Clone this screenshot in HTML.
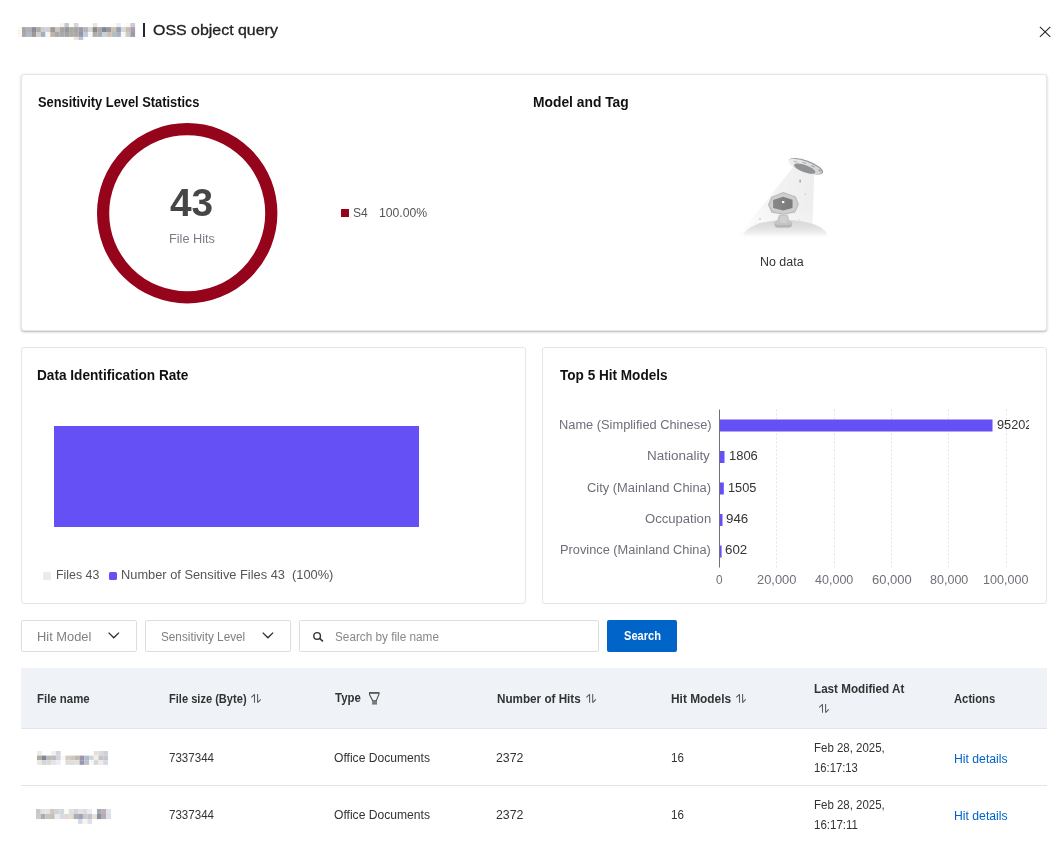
<!DOCTYPE html>
<html lang="en">
<head>
<meta charset="utf-8">
<title>OSS object query</title>
<style>
*{box-sizing:border-box;margin:0;padding:0}
html,body{width:1058px;height:841px;overflow:hidden;background:#fff}
body{font-family:"Liberation Sans","Noto Sans CJK SC",sans-serif;color:#333;font-size:12px;position:relative}
.abs{position:absolute}
.x{position:absolute;white-space:nowrap;transform-origin:0 0}
.card{position:absolute;background:#fff;border:1px solid #e4e5e9;border-radius:3px}
.card.shadow{box-shadow:0 1px 3px 0 rgba(0,0,0,.2),0 1px 1px 0 rgba(0,0,0,.1);border-color:#e6e6e6}
.box{position:absolute;border:1px solid #dedede;border-radius:2px;background:#fff}
</style>
</head>
<body>
<!-- header -->
<svg class="abs" style="left:0;top:0" width="140" height="50" viewBox="0 0 140 50"><rect x="59.68" y="23.00" width="4.76" height="4.15" fill="#fdf3ec"/><rect x="64.39" y="23.00" width="4.76" height="4.15" fill="#c0cad6"/><rect x="69.10" y="23.00" width="4.76" height="4.15" fill="#fffff2"/><rect x="73.81" y="23.00" width="4.76" height="4.15" fill="#d6d6e2"/><rect x="92.65" y="23.00" width="4.76" height="4.15" fill="#e6e6e6"/><rect x="111.49" y="23.00" width="4.76" height="4.15" fill="#fdfbf6"/><rect x="116.20" y="23.00" width="4.76" height="4.15" fill="#e7ecf5"/><rect x="125.62" y="23.00" width="4.76" height="4.15" fill="#fdf8f0"/><rect x="130.33" y="23.00" width="4.76" height="4.15" fill="#c9ccd6"/><rect x="22.00" y="27.10" width="4.76" height="4.93" fill="#a4a5a8"/><rect x="26.71" y="27.10" width="4.76" height="4.93" fill="#aeafb2"/><rect x="31.42" y="27.10" width="4.76" height="4.93" fill="#8a8d9b"/><rect x="36.13" y="27.10" width="4.76" height="4.93" fill="#b0aaa6"/><rect x="40.84" y="27.10" width="4.76" height="4.93" fill="#c9ced8"/><rect x="45.55" y="27.10" width="4.76" height="4.93" fill="#cdd2d8"/><rect x="50.26" y="27.10" width="4.76" height="4.93" fill="#a39a8f"/><rect x="54.97" y="27.10" width="4.76" height="4.93" fill="#c7c5c0"/><rect x="59.68" y="27.10" width="4.76" height="4.93" fill="#a7a5a3"/><rect x="64.39" y="27.10" width="4.76" height="4.93" fill="#989898"/><rect x="69.10" y="27.10" width="4.76" height="4.93" fill="#a6aca6"/><rect x="73.81" y="27.10" width="4.76" height="4.93" fill="#ada2a4"/><rect x="78.52" y="27.10" width="4.76" height="4.93" fill="#9a9eaa"/><rect x="83.23" y="27.10" width="4.76" height="4.93" fill="#b8b4b6"/><rect x="87.94" y="27.10" width="4.76" height="4.93" fill="#d3d7da"/><rect x="92.65" y="27.10" width="4.76" height="4.93" fill="#8b8a87"/><rect x="97.36" y="27.10" width="4.76" height="4.93" fill="#a8a8a8"/><rect x="102.07" y="27.10" width="4.76" height="4.93" fill="#7c8799"/><rect x="106.78" y="27.10" width="4.76" height="4.93" fill="#9b9795"/><rect x="111.49" y="27.10" width="4.76" height="4.93" fill="#c5c1b3"/><rect x="116.20" y="27.10" width="4.76" height="4.93" fill="#999caf"/><rect x="120.91" y="27.10" width="4.76" height="4.93" fill="#d7d8da"/><rect x="125.62" y="27.10" width="4.76" height="4.93" fill="#c2bdb6"/><rect x="130.33" y="27.10" width="4.76" height="4.93" fill="#aa9db0"/><rect x="22.00" y="31.98" width="4.76" height="4.93" fill="#a6a7aa"/><rect x="26.71" y="31.98" width="4.76" height="4.93" fill="#b3b7c3"/><rect x="31.42" y="31.98" width="4.76" height="4.93" fill="#9a979a"/><rect x="36.13" y="31.98" width="4.76" height="4.93" fill="#d0cec8"/><rect x="40.84" y="31.98" width="4.76" height="4.93" fill="#a3aec1"/><rect x="45.55" y="31.98" width="4.76" height="4.93" fill="#f4f5f7"/><rect x="50.26" y="31.98" width="4.76" height="4.93" fill="#c3b4a1"/><rect x="54.97" y="31.98" width="4.76" height="4.93" fill="#a8a9ac"/><rect x="59.68" y="31.98" width="4.76" height="4.93" fill="#aaaaaa"/><rect x="64.39" y="31.98" width="4.76" height="4.93" fill="#a5a29f"/><rect x="69.10" y="31.98" width="4.76" height="4.93" fill="#a8afa9"/><rect x="73.81" y="31.98" width="4.76" height="4.93" fill="#b1a5a5"/><rect x="78.52" y="31.98" width="4.76" height="4.93" fill="#9097a7"/><rect x="83.23" y="31.98" width="4.76" height="4.93" fill="#c3c8d6"/><rect x="87.94" y="31.98" width="4.76" height="4.93" fill="#f6f8f6"/><rect x="92.65" y="31.98" width="4.76" height="4.93" fill="#b0acaa"/><rect x="97.36" y="31.98" width="4.76" height="4.93" fill="#a9adb3"/><rect x="102.07" y="31.98" width="4.76" height="4.93" fill="#c5cfd9"/><rect x="106.78" y="31.98" width="4.76" height="4.93" fill="#c9bfb4"/><rect x="111.49" y="31.98" width="4.76" height="4.93" fill="#b7bcbc"/><rect x="116.20" y="31.98" width="4.76" height="4.93" fill="#a9b0c1"/><rect x="120.91" y="31.98" width="4.76" height="4.93" fill="#f7f8f3"/><rect x="125.62" y="31.98" width="4.76" height="4.93" fill="#cdc8c4"/><rect x="130.33" y="31.98" width="4.76" height="4.93" fill="#9a9bab"/><rect x="73.81" y="36.86" width="4.76" height="3.05" fill="#f3e1d3"/><rect x="78.52" y="36.86" width="4.76" height="3.05" fill="#b8c1df"/><rect x="18.00" y="27.10" width="4.05" height="9.81" fill="#fdf6ee"/></svg>
<div class="abs" style="left:143px;top:23px;width:2px;height:14px;background:#23262b"></div>
<div class="x" style="left:153.24px;top:21.30px;font-size:15px;font-weight:normal;color:#222;line-height:18.00px;-webkit-text-stroke:.3px #222;transform:scaleX(1.0621)">OSS object query</div>
<svg class="abs" style="left:1039px;top:26px" width="12" height="12" viewBox="0 0 12 12"><path d="M.9 .9L11.3 10.9M11.3 .9L.9 10.9" stroke="#2a2a2a" stroke-width="1.15" fill="none"/></svg>

<!-- card 1 -->
<div class="card shadow" style="left:21px;top:74px;width:1026px;height:257px"></div>
<div class="x" style="left:37.78px;top:94.00px;font-size:14px;font-weight:bold;color:#111;line-height:16.80px;transform:scaleX(0.9172)">Sensitivity Level Statistics</div>
<div class="x" style="left:533.41px;top:94.00px;font-size:14px;font-weight:bold;color:#111;line-height:16.80px;transform:scaleX(0.9874)">Model and Tag</div>
<svg class="abs" style="left:90px;top:118px" width="196" height="192" viewBox="0 0 196 192"><circle cx="97.2" cy="95.25" r="84.1" fill="none" stroke="#95041b" stroke-width="12.2"/></svg>
<div class="x" style="left:169.70px;top:180.00px;font-size:38.5px;font-weight:bold;color:#464646;line-height:46.20px;transform:scaleX(1.0098)">43</div>
<div class="x" style="left:168.64px;top:231.80px;font-size:12px;font-weight:normal;color:#7a7d86;line-height:14.40px;transform:scaleX(1.0595)">File Hits</div>
<div class="abs" style="left:341px;top:209px;width:8px;height:8px;background:#95041b"></div>
<div class="x" style="left:352.79px;top:205.80px;font-size:12px;font-weight:normal;color:#555;line-height:14.40px;transform:scaleX(1.0077)">S4</div>
<div class="x" style="left:378.58px;top:205.80px;font-size:12px;font-weight:normal;color:#555;line-height:14.40px;transform:scaleX(1.0174)">100.00%</div>
<svg class="abs" style="left:730px;top:148px" width="104" height="100" viewBox="730 148 104 100">
<defs>
<linearGradient id="beam" x1="0" y1="0" x2="0" y2="1"><stop offset="0" stop-color="#eeeeee"/><stop offset=".6" stop-color="#ececec" stop-opacity=".9"/><stop offset="1" stop-color="#efefef" stop-opacity=".6"/></linearGradient>
<linearGradient id="beamx" x1="0" y1="0" x2="1" y2="0"><stop offset="0" stop-color="#fff" stop-opacity=".9"/><stop offset=".5" stop-color="#fff" stop-opacity=".3"/><stop offset="1" stop-color="#fff" stop-opacity="0"/></linearGradient>
<linearGradient id="gnd" x1="0" y1="0" x2="0" y2="1"><stop offset="0" stop-color="#d7d7d7"/><stop offset=".24" stop-color="#e1e1e1"/><stop offset=".4" stop-color="#eeeeee"/><stop offset=".54" stop-color="#fff"/><stop offset="1" stop-color="#fff"/></linearGradient>
<linearGradient id="sau" x1="0" y1="0" x2="1" y2="0"><stop offset="0" stop-color="#f1f1f1"/><stop offset="1" stop-color="#cfcfcf"/></linearGradient>
<linearGradient id="scr" x1="0" y1="0" x2="1" y2="0"><stop offset="0" stop-color="#868889"/><stop offset="1" stop-color="#787a7c"/></linearGradient>
</defs>
<path d="M793.8 166.200L814.300 173.300L812.100 234.400L738.300 236.200Z" fill="url(#beam)"/>
<path d="M793.8 166.200L814.300 173.300L812.100 234.400L738.300 236.200Z" fill="url(#beamx)"/>
<ellipse cx="785.5" cy="236" rx="42" ry="16" fill="url(#gnd)"/>
<g transform="rotate(19.700 806 166.300)">
<ellipse cx="806" cy="166.300" rx="18.100" ry="5.900" fill="#9c9c9c"/>
<ellipse cx="805.300" cy="166.900" rx="17.600" ry="5.300" fill="url(#sau)"/>
<ellipse cx="794.500" cy="165.400" rx="2.400" ry=".7" fill="#bdbdbd"/>
<ellipse cx="803.300" cy="163.700" rx="2.400" ry=".7" fill="#b9b9b9"/>
<ellipse cx="812.500" cy="163.900" rx="2.200" ry=".7" fill="#adadad"/>
<ellipse cx="820.500" cy="165.600" rx="1.700" ry=".8" fill="#a4a4a4"/>
<ellipse cx="805.600" cy="168.900" rx="11.300" ry="3.600" fill="#8f9395"/>
</g>
<path d="M799 179.800h1.700v2.600h-1.700z" fill="#c6c6c6"/><path d="M799.900 179.800h1v2.600h-1z" fill="#a9a9a9"/>
<circle cx="805.400" cy="194.200" r=".8" fill="#c6c6c6"/>
<circle cx="760" cy="219" r=".9" fill="#cdcdcd"/>
<circle cx="799.400" cy="219.600" r=".7" fill="#d2d2d2"/>
<path d="M779.200 214.800h8.500l1.500 5.500 3.200 2.200-1.200 4.600-2.200.7h-11.600l-2.200-.7-1.200-4.600 3.200-2.200z" fill="#c4c4c4"/>
<path d="M780.300 216h6.300l1.200 4.800-2.100 2.200h-4.500l-2.100-2.200z" fill="#d0d0d0"/>
<path d="M774.600 223.600l2.600 1.500h12.200l2.600-1.500-.7 3-2 .7h-12l-2-.7z" fill="#b4b4b4"/>
<path d="M783.400 192.100l12.400 4.500 3.100 8-3.800 7.800-11.900 2.300-11.800-2.300-3.500-7.600 3.500-8.100z" fill="#b9b9b9"/>
<path d="M783.400 193.100l11.600 4.200 2.800 7.300-3.500 7-10.900 2.100-10.900-2.100-3.200-6.900 3.200-7.400z" fill="#cecece"/>
<path d="M783.100 196.800l9.400 2.900v8.300l-9.400 2.600-10-2.600v-8z" fill="url(#scr)"/>
<rect x="782" y="201" width="2.300" height="2.100" fill="#fff"/>
</svg>
<div class="x" style="left:759.96px;top:255.00px;font-size:12px;font-weight:normal;color:#333;line-height:14.40px;transform:scaleX(1.0366)">No data</div>

<!-- card 2 -->
<div class="card" style="left:21px;top:347px;width:505px;height:257px"></div>
<div class="x" style="left:37.43px;top:367.00px;font-size:14px;font-weight:bold;color:#111;line-height:16.80px;transform:scaleX(0.9734)">Data Identification Rate</div>
<div class="abs" style="left:54px;top:426px;width:365px;height:101px;background:#6450f5"></div>
<div class="abs" style="left:43px;top:572px;width:8px;height:8px;background:#ebebeb;border-radius:1.5px"></div>
<div class="x" style="left:55.67px;top:567.90px;font-size:12px;font-weight:normal;color:#555;line-height:14.40px;transform:scaleX(1.0325)">Files 43</div>
<div class="abs" style="left:109px;top:572px;width:8px;height:8px;background:#6450f5;border-radius:1.5px"></div>
<div class="x" style="left:121.43px;top:567.90px;font-size:12px;font-weight:normal;color:#555;line-height:14.40px;transform:scaleX(1.0685)">Number of Sensitive Files 43&nbsp; (100%)</div>

<!-- card 3 -->
<div class="card" style="left:542px;top:347px;width:505px;height:257px"></div>
<div class="x" style="left:559.60px;top:367.00px;font-size:14px;font-weight:bold;color:#111;line-height:16.80px;transform:scaleX(0.9694)">Top 5 Hit Models</div>
<svg class="abs" style="left:542px;top:400px" width="490" height="200" viewBox="542 400 490 200">
<g stroke="#e4e4e4" stroke-width="1" stroke-dasharray="2 2">
<path d="M776.5 409.5V567.5M834.5 409.5V567.5M891.5 409.5V567.5M948.5 409.5V567.5M1006.5 409.5V567.5"/>
</g>
<path d="M719.5 409.5V567.5" stroke="#6e7079" stroke-width="1"/>
<g fill="#6450f5">
<rect x="720" y="419.5" width="272.5" height="12"/>
<rect x="720" y="451" width="4.5" height="12"/>
<rect x="720" y="482.5" width="3.8" height="12"/>
<rect x="720" y="514" width="2.5" height="12"/>
<rect x="720" y="545.5" width="1.6" height="12"/>
</g>
</svg>
<div class="abs" style="left:542px;top:400px;width:487px;height:200px;overflow:hidden"><div style="position:absolute;left:-542px;top:-400px;width:1058px;height:841px">
<div class="x" style="left:558.53px;top:418.00px;font-size:12px;font-weight:normal;color:#6e7079;line-height:14.40px;transform:scaleX(1.0688)">Name (Simplified Chinese)</div>
<div class="x" style="left:647.48px;top:449.10px;font-size:12px;font-weight:normal;color:#6e7079;line-height:14.40px;transform:scaleX(1.1218)">Nationality</div>
<div class="x" style="left:586.62px;top:480.60px;font-size:12px;font-weight:normal;color:#6e7079;line-height:14.40px;transform:scaleX(1.0754)">City (Mainland China)</div>
<div class="x" style="left:644.91px;top:511.80px;font-size:12px;font-weight:normal;color:#6e7079;line-height:14.40px;transform:scaleX(1.0898)">Occupation</div>
<div class="x" style="left:559.93px;top:542.90px;font-size:12px;font-weight:normal;color:#6e7079;line-height:14.40px;transform:scaleX(1.0664)">Province (Mainland China)</div>
<div class="x" style="left:996.74px;top:418.00px;font-size:12px;font-weight:normal;color:#333;line-height:14.40px;transform:scaleX(1.0625)">95202</div>
<div class="x" style="left:729.32px;top:449.10px;font-size:12px;font-weight:normal;color:#333;line-height:14.40px;transform:scaleX(1.0800)">1806</div>
<div class="x" style="left:728.34px;top:480.60px;font-size:12px;font-weight:normal;color:#333;line-height:14.40px;transform:scaleX(1.0640)">1505</div>
<div class="x" style="left:726.29px;top:511.80px;font-size:12px;font-weight:normal;color:#333;line-height:14.40px;transform:scaleX(1.1111)">946</div>
<div class="x" style="left:725.29px;top:542.90px;font-size:12px;font-weight:normal;color:#333;line-height:14.40px;transform:scaleX(1.1111)">602</div>
<div class="x" style="left:716.00px;top:573.30px;font-size:12px;font-weight:normal;color:#6e7079;line-height:14.40px;transform:scaleX(0.9833)">0</div>
<div class="x" style="left:756.73px;top:573.30px;font-size:12px;font-weight:normal;color:#6e7079;line-height:14.40px;transform:scaleX(1.0743)">20,000</div>
<div class="x" style="left:815.00px;top:573.30px;font-size:12px;font-weight:normal;color:#6e7079;line-height:14.40px;transform:scaleX(1.0444)">40,000</div>
<div class="x" style="left:871.52px;top:573.30px;font-size:12px;font-weight:normal;color:#6e7079;line-height:14.40px;transform:scaleX(1.0829)">60,000</div>
<div class="x" style="left:929.80px;top:573.30px;font-size:12px;font-weight:normal;color:#6e7079;line-height:14.40px;transform:scaleX(1.0444)">80,000</div>
<div class="x" style="left:983.35px;top:573.30px;font-size:12px;font-weight:normal;color:#6e7079;line-height:14.40px;transform:scaleX(1.0476)">100,000</div>
</div></div>

<!-- filters -->
<div class="box" style="left:21px;top:620px;width:116px;height:32px"></div>
<div class="x" style="left:37.13px;top:629.70px;font-size:12px;font-weight:normal;color:#808080;line-height:14.40px;transform:scaleX(1.0714)">Hit Model</div>
<svg class="abs" style="left:107px;top:631px" width="14" height="9" viewBox="0 0 14 9"><path d="M1.6 1.6L6.8 6.8L12 1.6" stroke="#2b2b2b" stroke-width="1.3" fill="none"/></svg>
<div class="box" style="left:145px;top:620px;width:146px;height:32px"></div>
<div class="x" style="left:160.92px;top:629.70px;font-size:12px;font-weight:normal;color:#808080;line-height:14.40px;transform:scaleX(0.9786)">Sensitivity Level</div>
<svg class="abs" style="left:261px;top:631px" width="14" height="9" viewBox="0 0 14 9"><path d="M1.7 1.6L6.9 6.8L12.1 1.6" stroke="#2b2b2b" stroke-width="1.3" fill="none"/></svg>
<div class="box" style="left:299px;top:620px;width:300px;height:32px"></div>
<svg class="abs" style="left:312px;top:631px" width="13" height="12" viewBox="0 0 13 12"><circle cx="5.1" cy="4.9" r="3.3" stroke="#333" stroke-width="1.4" fill="none"/><path d="M7.6 7.4L10.9 10.4" stroke="#333" stroke-width="1.6"/></svg>
<div class="x" style="left:335.02px;top:629.60px;font-size:12px;font-weight:normal;color:#888;line-height:14.40px;transform:scaleX(0.9800)">Search by file name</div>
<div class="abs" style="left:607px;top:620px;width:70px;height:32px;background:#0064c8;border-radius:2px"></div>
<div class="x" style="left:623.98px;top:628.80px;font-size:12px;font-weight:bold;color:#fff;line-height:14.40px;transform:scaleX(0.9237)">Search</div>

<!-- table -->
<div class="abs" style="left:21px;top:668px;width:1026px;height:60px;background:#eff3f8"></div>
<div class="abs" style="left:21px;top:728px;width:1026px;height:1px;background:#e3e4e6"></div>
<div class="abs" style="left:21px;top:785px;width:1026px;height:1px;background:#e3e4e6"></div>
<div class="x" style="left:36.75px;top:692.00px;font-size:12px;font-weight:bold;color:#333;line-height:14.40px;transform:scaleX(0.9519)">File name</div>
<div class="x" style="left:169.38px;top:692.00px;font-size:12px;font-weight:bold;color:#333;line-height:14.40px;transform:scaleX(0.9232)">File size (Byte)</div>
<div class="x" style="left:334.50px;top:690.90px;font-size:12px;font-weight:bold;color:#333;line-height:14.40px;transform:scaleX(0.9519)">Type</div>
<div class="x" style="left:497.23px;top:692.00px;font-size:12px;font-weight:bold;color:#333;line-height:14.40px;transform:scaleX(0.9738)">Number of Hits</div>
<div class="x" style="left:670.61px;top:692.00px;font-size:12px;font-weight:bold;color:#333;line-height:14.40px;transform:scaleX(0.9898)">Hit Models</div>
<div class="x" style="left:813.63px;top:682.00px;font-size:12px;font-weight:bold;color:#333;line-height:14.40px;transform:scaleX(0.9728)">Last Modified At</div>
<div class="x" style="left:954.10px;top:692.00px;font-size:12px;font-weight:bold;color:#333;line-height:14.40px;transform:scaleX(0.9372)">Actions</div>
<svg class="abs" style="left:0;top:668px" width="1058" height="60" viewBox="0 668 1058 60" fill="none" stroke="#5a5a5a" stroke-width="1.05" stroke-linejoin="bevel">
<g id="sorts">
<path d="M251.30 697.40L254.50 694.30V702.80M257.60 693.90V702.60L260.80 699.30"/>
<path d="M586.40 697.40L589.60 694.30V702.80M592.70 693.90V702.60L595.90 699.30"/>
<path d="M736.30 697.40L739.50 694.30V702.80M742.60 693.90V702.60L745.80 699.30"/>
<path d="M819.30 707.40L822.50 704.30V712.80M825.60 703.90V712.60L828.80 709.30"/>
</g>
<path d="M369.5 692.9H378.9V694.4L376.2 700.9H372.8L369.5 694.4Z" stroke="#4a4a4a" stroke-width="1.1" stroke-linejoin="round"/>
<path d="M369 692.2H379.4V693.6H369Z" fill="#555" stroke="none"/>
<path d="M372.1 701.1H377V704.6H372.1Z" fill="#7a7a7a" stroke="none"/>
</svg>
<svg class="abs" style="left:0;top:740px" width="130" height="101" viewBox="0 740 130 101"><rect x="37.00" y="751.00" width="4.78" height="4.65" fill="#ebebeb"/><rect x="51.19" y="751.00" width="4.78" height="4.65" fill="#f0f0f0"/><rect x="55.92" y="751.00" width="4.78" height="4.65" fill="#d8d4de"/><rect x="93.76" y="751.00" width="4.78" height="4.65" fill="#e4e0de"/><rect x="98.49" y="751.00" width="4.78" height="4.65" fill="#dcdad4"/><rect x="103.22" y="751.00" width="4.78" height="4.65" fill="#cdd0dc"/><rect x="37.00" y="755.60" width="4.78" height="4.65" fill="#b5aa98"/><rect x="41.73" y="755.60" width="4.78" height="4.65" fill="#7e869c"/><rect x="46.46" y="755.60" width="4.78" height="4.65" fill="#b9bab8"/><rect x="51.19" y="755.60" width="4.78" height="4.65" fill="#b8bbb8"/><rect x="55.92" y="755.60" width="4.78" height="4.65" fill="#d4d0dc"/><rect x="60.65" y="755.60" width="4.78" height="4.65" fill="#f4fafa"/><rect x="65.38" y="755.60" width="4.78" height="4.65" fill="#d2cec8"/><rect x="70.11" y="755.60" width="4.78" height="4.65" fill="#ccc8c0"/><rect x="74.84" y="755.60" width="4.78" height="4.65" fill="#c4b8ac"/><rect x="79.57" y="755.60" width="4.78" height="4.65" fill="#9c94ac"/><rect x="84.30" y="755.60" width="4.78" height="4.65" fill="#acc0cc"/><rect x="89.03" y="755.60" width="4.78" height="4.65" fill="#d0d4dc"/><rect x="93.76" y="755.60" width="4.78" height="4.65" fill="#f0eee8"/><rect x="98.49" y="755.60" width="4.78" height="4.65" fill="#ccc0c8"/><rect x="103.22" y="755.60" width="4.78" height="4.65" fill="#c4c8c8"/><rect x="37.00" y="760.20" width="4.78" height="4.65" fill="#e8e8e8"/><rect x="41.73" y="760.20" width="4.78" height="4.65" fill="#d4d4d4"/><rect x="46.46" y="760.20" width="4.78" height="4.65" fill="#d8d8d4"/><rect x="51.19" y="760.20" width="4.78" height="4.65" fill="#e4e4e4"/><rect x="55.92" y="760.20" width="4.78" height="4.65" fill="#eceef6"/><rect x="65.38" y="760.20" width="4.78" height="4.65" fill="#e0dcd8"/><rect x="70.11" y="760.20" width="4.78" height="4.65" fill="#dcdee0"/><rect x="74.84" y="760.20" width="4.78" height="4.65" fill="#e0e2dc"/><rect x="79.57" y="760.20" width="4.78" height="4.65" fill="#9498b8"/><rect x="84.30" y="760.20" width="4.78" height="4.65" fill="#c8bcc0"/><rect x="89.03" y="760.20" width="4.78" height="4.65" fill="#f0f8fc"/><rect x="93.76" y="760.20" width="4.78" height="4.65" fill="#dcd4d4"/><rect x="98.49" y="760.20" width="4.78" height="4.65" fill="#ececec"/><rect x="103.22" y="760.20" width="4.78" height="4.65" fill="#d4d8e0"/><rect x="36.00" y="809.00" width="4.74" height="5.05" fill="#c8c8c8"/><rect x="40.69" y="809.00" width="4.74" height="5.05" fill="#e4e2e0"/><rect x="45.38" y="809.00" width="4.74" height="5.05" fill="#e4e4e4"/><rect x="50.07" y="809.00" width="4.74" height="5.05" fill="#ccc8c4"/><rect x="54.76" y="809.00" width="4.74" height="5.05" fill="#d0d4d8"/><rect x="59.45" y="809.00" width="4.74" height="5.05" fill="#d4d8dc"/><rect x="64.14" y="809.00" width="4.74" height="5.05" fill="#fcfaf6"/><rect x="68.83" y="809.00" width="4.74" height="5.05" fill="#dce0e4"/><rect x="73.52" y="809.00" width="4.74" height="5.05" fill="#d4d4d8"/><rect x="78.21" y="809.00" width="4.74" height="5.05" fill="#e4e0e0"/><rect x="82.90" y="809.00" width="4.74" height="5.05" fill="#dcdcdc"/><rect x="87.59" y="809.00" width="4.74" height="5.05" fill="#e4ecf4"/><rect x="92.28" y="809.00" width="4.74" height="5.05" fill="#fffefc"/><rect x="96.97" y="809.00" width="4.74" height="5.05" fill="#a8a4b4"/><rect x="101.66" y="809.00" width="4.74" height="5.05" fill="#bcb0b0"/><rect x="106.35" y="809.00" width="4.74" height="5.05" fill="#e0e4ec"/><rect x="36.00" y="814.00" width="4.74" height="5.05" fill="#c8ccd0"/><rect x="40.69" y="814.00" width="4.74" height="5.05" fill="#b0aca8"/><rect x="45.38" y="814.00" width="4.74" height="5.05" fill="#c4c4c0"/><rect x="50.07" y="814.00" width="4.74" height="5.05" fill="#c4c0b8"/><rect x="54.76" y="814.00" width="4.74" height="5.05" fill="#e4ecf4"/><rect x="59.45" y="814.00" width="4.74" height="5.05" fill="#d8dce0"/><rect x="64.14" y="814.00" width="4.74" height="5.05" fill="#e0d8d4"/><rect x="68.83" y="814.00" width="4.74" height="5.05" fill="#e8dccc"/><rect x="73.52" y="814.00" width="4.74" height="5.05" fill="#b0acb4"/><rect x="78.21" y="814.00" width="4.74" height="5.05" fill="#98a4bc"/><rect x="82.90" y="814.00" width="4.74" height="5.05" fill="#c8c8c4"/><rect x="87.59" y="814.00" width="4.74" height="5.05" fill="#c0c4c8"/><rect x="92.28" y="814.00" width="4.74" height="5.05" fill="#e8e0d8"/><rect x="96.97" y="814.00" width="4.74" height="5.05" fill="#8c90a4"/><rect x="101.66" y="814.00" width="4.74" height="5.05" fill="#b8acb4"/><rect x="106.35" y="814.00" width="4.74" height="5.05" fill="#dce0e8"/><rect x="78.00" y="819.00" width="4.74" height="4.85" fill="#d8d8e4"/><rect x="82.69" y="819.00" width="4.74" height="4.85" fill="#f8f4f0"/><rect x="87.38" y="819.00" width="4.74" height="4.85" fill="#dce0e8"/></svg>
<div class="x" style="left:169.34px;top:751.30px;font-size:12px;font-weight:normal;color:#333;line-height:14.40px;transform:scaleX(0.9644)">7337344</div>
<div class="x" style="left:333.59px;top:751.30px;font-size:12px;font-weight:normal;color:#333;line-height:14.40px;transform:scaleX(1.0085)">Office Documents</div>
<div class="x" style="left:495.87px;top:751.30px;font-size:12px;font-weight:normal;color:#333;line-height:14.40px;transform:scaleX(1.0280)">2372</div>
<div class="x" style="left:671.43px;top:751.30px;font-size:12px;font-weight:normal;color:#333;line-height:14.40px;transform:scaleX(0.9667)">16</div>
<div class="x" style="left:813.64px;top:741.40px;font-size:12px;font-weight:normal;color:#333;line-height:14.40px;transform:scaleX(0.9556)">Feb 28, 2025,</div>
<div class="x" style="left:814.16px;top:761.00px;font-size:12px;font-weight:normal;color:#333;line-height:14.40px;transform:scaleX(0.9378)">16:17:13</div>
<div class="x" style="left:953.88px;top:752.20px;font-size:12px;font-weight:normal;color:#0064c8;line-height:14.40px;transform:scaleX(1.0176)">Hit details</div>
<div class="x" style="left:169.34px;top:808.00px;font-size:12px;font-weight:normal;color:#333;line-height:14.40px;transform:scaleX(0.9644)">7337344</div>
<div class="x" style="left:333.59px;top:808.00px;font-size:12px;font-weight:normal;color:#333;line-height:14.40px;transform:scaleX(1.0085)">Office Documents</div>
<div class="x" style="left:495.87px;top:808.00px;font-size:12px;font-weight:normal;color:#333;line-height:14.40px;transform:scaleX(1.0280)">2372</div>
<div class="x" style="left:671.43px;top:808.00px;font-size:12px;font-weight:normal;color:#333;line-height:14.40px;transform:scaleX(0.9667)">16</div>
<div class="x" style="left:813.64px;top:798.30px;font-size:12px;font-weight:normal;color:#333;line-height:14.40px;transform:scaleX(0.9556)">Feb 28, 2025,</div>
<div class="x" style="left:814.14px;top:818.00px;font-size:12px;font-weight:normal;color:#333;line-height:14.40px;transform:scaleX(0.9591)">16:17:11</div>
<div class="x" style="left:953.88px;top:808.90px;font-size:12px;font-weight:normal;color:#0064c8;line-height:14.40px;transform:scaleX(1.0176)">Hit details</div>
</body>
</html>
